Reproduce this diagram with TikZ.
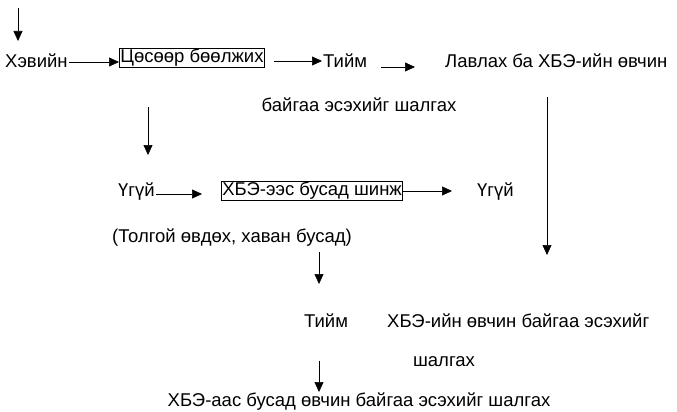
\documentclass[tikz,border=0pt]{standalone}
\usepackage{fontspec}
\setmainfont{Liberation Sans}
\usetikzlibrary{arrows.meta}
\begin{document}
\begin{tikzpicture}[x=1pt,y=-1pt,
  txt/.style={inner sep=1pt,font=\fontsize{18.5}{21}\selectfont},
  bx/.style={txt,draw,line width=.8pt},
  arr/.style={line width=.6pt,-{Triangle[length=10pt,width=9pt]}}]
   \useasboundingbox (0,0) rectangle (677,412);

   %first row
   \node[txt,anchor=west] (hev) at (4,61) {Хэвийн};
   \node[bx,anchor=west] (bos) at (119,58) {Цөсөөр бөөлжих};
   \node[txt,anchor=west] (tiimA) at (322,61) {Тийм};
   \node[txt,anchor=west] (lav) at (444,61) {Лавлах ба ХБЭ-ийн өвчин};
   \node[txt] (lavB) at (359,105) {байгаа эсэхийг шалгах};

   %second row
   \node[txt,anchor=west] (ugA) at (117,192) {Үгүй};
   \node[bx,anchor=west] (shinj) at (221,191) {ХБЭ-ээс бусад шинж};
   \node[txt,anchor=west] (ugB) at (476,192) {Үгүй};
   \node[txt] (tolg) at (232,238) {(Толгой өвдөх, хаван бусад)};

   %third row
   \node[txt] (tiimB) at (326,321) {Тийм};
   \node[txt,anchor=west] (hbe) at (386,321) {ХБЭ-ийн өвчин байгаа эсэхийг};
   \node[txt] (hbeB) at (444,362) {шалгах};
   \node[txt] (busad) at (359,402) {ХБЭ-аас бусад өвчин байгаа эсэхийг шалгах};

   %free ends
   \coordinate (start) at (18,8);
   \coordinate (startE) at (18,41);
   \coordinate (downA) at (148,107);
   \coordinate (downAE) at (148,155);
   \coordinate (right) at (547,97);
   \coordinate (rightE) at (547,255);
   \coordinate (midA) at (319,252);
   \coordinate (midAE) at (319,284);
   \coordinate (midB) at (319,361);
   \coordinate (midBE) at (319,392);

   %arrows
   \draw[arr] (start) -- (startE);
   \draw[arr] ([yshift=-1pt]hev.east) -- ([yshift=-1pt]hev.east -| bos.west);
   \draw[arr,shorten <=9pt] (bos.east |- tiimA.west) -- (tiimA.west);
   \draw[arr] ([xshift=13pt,yshift=-6pt]tiimA.east) -- ([xshift=-29pt,yshift=-6pt]lav.west);
   \draw[arr] (downA) -- (downAE);
   \draw[arr] (right) -- (rightE);
   \draw[arr,shorten >=19pt] ([yshift=-2pt]ugA.east) -- ([yshift=-2pt]ugA.east -| shinj.west);
   \draw[arr,shorten >=24pt] (shinj.east) -- (shinj.east -| ugB.west);
   \draw[arr] (midA) -- (midAE);
   \draw[arr] (midB) -- (midBE);
\end{tikzpicture}
\end{document}
